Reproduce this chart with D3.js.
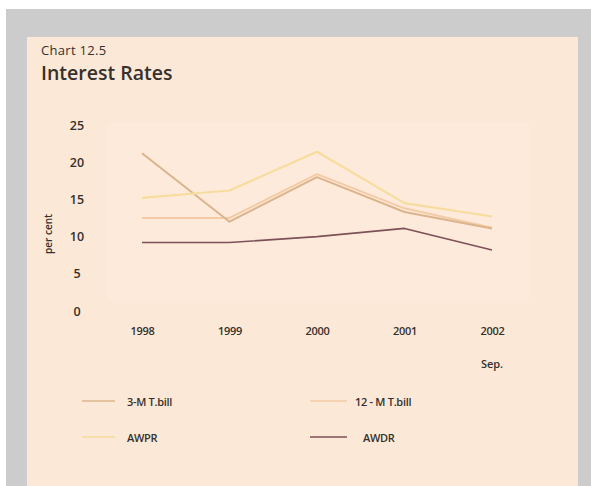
<!DOCTYPE html>
<html>
<head>
<meta charset="utf-8">
<script src="https://cdn.jsdelivr.net/npm/d3@7"></script>
<style>
  html, body { margin: 0; padding: 0; background: #ffffff; }
  svg { display: block; }
  text { font-family: "Open Sans", "DejaVu Sans", sans-serif; fill: #35302d; }
</style>
</head>
<body>
<svg id="chart" width="591" height="486"></svg>
<script>
// Interest rates, per cent
const years = ["1998", "1999", "2000", "2001", "2002"];
const yTicks = [0, 5, 10, 15, 20, 25];
const tBill3M = [21.2, 12.0, 18.0, 13.3, 11.1];
const tBill12M = [12.5, 12.5, 18.4, 13.8, 11.2];
const awpr = [15.2, 16.2, 21.4, 14.5, 12.7];
const awdr = [9.2, 9.2, 10.0, 11.1, 8.2];

const series = [
  { name: "3-M T.bill", values: tBill3M, color: "#dcb48c", width: 2 },
  { name: "12 - M T.bill", values: tBill12M, color: "#f3cba6", width: 2 },
  { name: "AWPR", values: awpr, color: "#f6dd9e", width: 2.2 },
  { name: "AWDR", values: awdr, color: "#7e5058", width: 1.6 }
];

const svg = d3.select("#chart");

// frame: grey surround and beige panel
svg.append("rect").attr("x", 6).attr("y", 9).attr("width", 585).attr("height", 477).attr("fill", "#cccccc");
svg.append("rect").attr("x", 27).attr("y", 37).attr("width", 551).attr("height", 449).attr("fill", "#fce8d6");

// plot backdrop
svg.append("rect").attr("x", 107).attr("y", 122).attr("width", 422).attr("height", 178).attr("fill", "#fdeadb");

svg.append("text").attr("x", 41).attr("y", 55).attr("font-size", 13).attr("letter-spacing", 0.3).text("Chart 12.5");
svg.append("text").attr("x", 41).attr("y", 80).attr("font-size", 19.5).attr("font-weight", 600).text("Interest Rates");

const x = d3.scalePoint().domain(years).range([142, 492]);
const y = d3.scaleLinear().domain([0, 25]).range([311, 125]);

// y axis labels
const yAxis = d3.axisLeft(y).tickValues(yTicks).tickSize(0).tickPadding(0);
const gy = svg.append("g").attr("transform", "translate(77,0)").call(yAxis);
gy.select(".domain").remove();
gy.selectAll("text")
  .attr("text-anchor", "middle")
  .attr("font-size", 12.5).attr("font-weight", 600)
  .attr("font-family", "\"Open Sans\", sans-serif").attr("fill", "#35302d");

svg.append("text")
  .attr("transform", "translate(52,234) rotate(-90)")
  .attr("text-anchor", "middle")
  .attr("font-size", 10).attr("font-weight", 600)
  .text("per cent");

// x axis labels
const xAxis = d3.axisBottom(x).tickSize(0).tickPadding(0);
const gx = svg.append("g").attr("transform", "translate(0,327)").call(xAxis);
gx.select(".domain").remove();
gx.selectAll("text")
  .attr("font-size", 11).attr("font-weight", 600).attr("letter-spacing", -0.3)
  .attr("font-family", "\"Open Sans\", sans-serif").attr("fill", "#35302d");
svg.append("text").attr("x", x("2002")).attr("y", 368).attr("text-anchor", "middle")
  .attr("font-size", 11).attr("font-weight", 600).text("Sep.");

// lines
const line = d3.line().x((d, i) => x(years[i])).y(d => y(d));
const drawOrder = [3, 1, 0, 2];
drawOrder.forEach(k => {
  const s = series[k];
  svg.append("path")
    .attr("d", line(s.values))
    .attr("fill", "none")
    .attr("stroke", s.color)
    .attr("stroke-width", s.width)
    .attr("stroke-linejoin", "round");
});

// legend
const legendPos = [[82, 401], [310, 401], [82, 437], [310, 437]];
const textOffset = [45, 45, 45, 53];
series.forEach((s, i) => {
  const [lx, ly] = legendPos[i];
  svg.append("line").attr("x1", lx).attr("x2", lx + (i % 2 ? 37 : 33)).attr("y1", ly).attr("y2", ly)
    .attr("stroke", s.color).attr("stroke-width", s.width === 1.6 ? 1.4 : 1.6);
  svg.append("text").attr("x", lx + textOffset[i]).attr("y", ly + 4.5)
    .attr("font-size", 11).attr("font-weight", 600).attr("letter-spacing", -0.3)
    .text(s.name);
});
</script>
</body>
</html>
